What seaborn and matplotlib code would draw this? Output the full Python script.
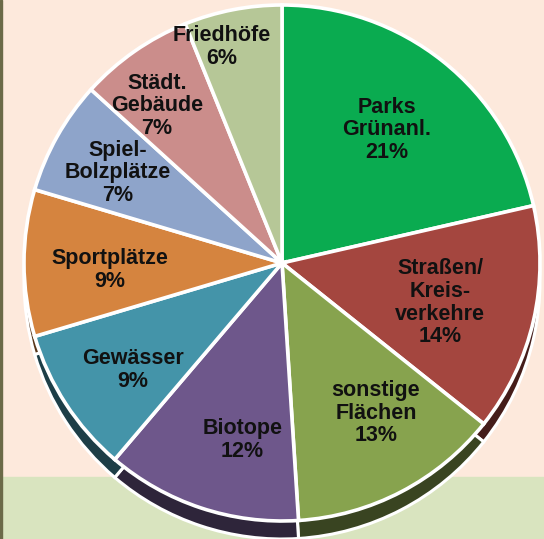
import numpy as np
import matplotlib
matplotlib.use("Agg")
import matplotlib.pyplot as plt
import seaborn as sns
from matplotlib.patches import Rectangle

# --- data ---
categories = ["Parks\nGrünanl.", "Straßen/\nKreis-\nverkehre", "sonstige\nFlächen",
              "Biotope", "Gewässer", "Sportplätze", "Spiel-\nBolzplätze",
              "Städt.\nGebäude", "Friedhöfe"]
shares = [21, 14, 13, 12, 9, 9, 7, 7, 6]
colors = ["#0aab50", "#a4463f", "#87a34e", "#6e578b", "#4494a9",
          "#d5843f", "#8ea4ca", "#cb8d8b", "#b6c797"]

# label placement tweaks (radius fraction, angle shift in degrees)
label_r = [0.657, 0.632, 0.686, 0.703, 0.71, 0.667, 0.725, 0.778, 0.87]
label_dt = [0.3, -1.3, 4.5, 5.7, 2.6, 2.3, 0.6, 3.6, 4.5]

sns.set_theme(style="white")
plt.rcParams['font.family'] = ['Liberation Sans', 'DejaVu Sans']

W, H = 544, 539
fig = plt.figure(figsize=(W / 100, H / 100), dpi=100)
ax = fig.add_axes([0, 0, 1, 1])

# background: peach top, light green strip at the bottom
ax.add_patch(Rectangle((0, 0), W, H, color="#fde9dc", zorder=0))
ax.add_patch(Rectangle((0, 0), W, H - 477, color="#d9e4bf", zorder=0))
ax.add_patch(Rectangle((0, 0), 1.8, H, color="#6b6a48", zorder=0))

cx, cy, r = 282, H - 263, 258
depth = 18

dark = [tuple(np.array(matplotlib.colors.to_rgb(c)) * 0.42) for c in colors]

# side of the "3d" pie
ax.pie(shares, colors=dark, startangle=90, counterclock=False,
       center=(cx, cy - depth), radius=r, frame=True,
       wedgeprops=dict(edgecolor="white", linewidth=2.2))

wedges, _ = ax.pie(shares, colors=colors, startangle=90, counterclock=False,
                   center=(cx, cy), radius=r, frame=True,
                   wedgeprops=dict(edgecolor="white", linewidth=2.6))
ax.set_xlim(0, W)
ax.set_ylim(0, H)
ax.axis("off")

for w, lab, val, rf, dt in zip(wedges, categories, shares, label_r, label_dt):
    mid = np.deg2rad((w.theta1 + w.theta2) / 2 + dt)
    x = cx + rf * r * np.cos(mid)
    y = cy + rf * r * np.sin(mid)
    ax.text(x, y, f"{lab}\n{val}%", ha="center", va="center",
            fontsize=15.5, fontweight="bold", color="#111111",
            linespacing=1.1, zorder=5)

fig.savefig("out.png", dpi=100)
